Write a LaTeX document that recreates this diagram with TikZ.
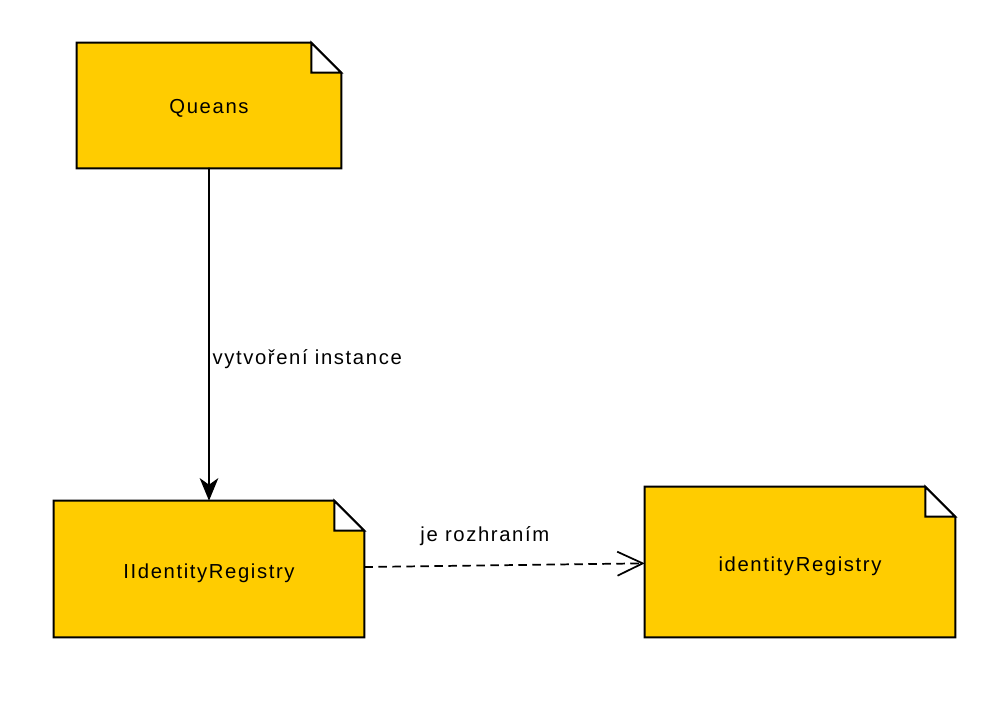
\documentclass[tikz,border=0pt]{standalone}
\usepackage{fontspec}
\setmainfont[LetterSpace=8]{Liberation Sans}
\usetikzlibrary{arrows.meta}
\definecolor{notefill}{HTML}{FFCC00}
\tikzset{notebox/.style={inner sep=0pt,font=\fontsize{15.2}{18}\selectfont},
	linklabel/.style={inner sep=2pt,font=\fontsize{15.2}{18}\selectfont}}
% list s ohnutym rohem kolem uzlu
\newcommand{\drawnote}[1]{%
	\draw[line width=1.5pt,fill=notefill] (#1.north west) -- ([xshift=-22.5pt]#1.north east)
	-- ([yshift=-22.5pt]#1.north east) -- (#1.south east) -- (#1.south west) -- cycle;
	\draw[line width=1.5pt,fill=white] ([xshift=-22.5pt]#1.north east) -- ([yshift=-22.5pt]#1.north east)
	-- ([xshift=-22.5pt,yshift=-22.5pt]#1.north east) -- cycle;}
\begin{document}
\begin{tikzpicture}[line cap=round,line join=miter,x=0.75pt,y=-0.75pt]
	\useasboundingbox (0,0) rectangle (999,704);
	% uzly
	\node[notebox,minimum width=198pt,minimum height=93.75pt] (queans) at (209,105.5) {};
	\node[notebox,minimum width=232.5pt,minimum height=102pt] (iidreg) at (209,569) {};
	\node[notebox,minimum width=232.5pt,minimum height=112.5pt] (idreg) at (800,562) {};
	\drawnote{queans}
	\drawnote{iidreg}
	\drawnote{idreg}
	\node[notebox] at ([yshift=-2.5pt]queans.center) {Queans};
	\node[notebox] at ([yshift=-3pt]iidreg.center) {IIdentityRegistry};
	\node[notebox] at ([yshift=-3pt]idreg.center) {identityRegistry};
	% spojnice
	\draw[line width=1.3pt,-{Stealth[length=17pt,width=14pt,inset=5pt]}] (queans.south) -- (iidreg.north)
	node[linklabel,pos=0.574,anchor=west] {vytvoření instance};
	\draw[line width=1.3pt,line cap=butt,dash pattern=on 6.5pt off 4pt,-{Straight Barb[length=19pt,width=18pt,line width=1.3pt]}]
	([yshift=1.5pt]iidreg.east) -- ([yshift=-1pt]idreg.west) node[linklabel,pos=0.43,above=12pt] {je rozhraním};
\end{tikzpicture}
\end{document}
